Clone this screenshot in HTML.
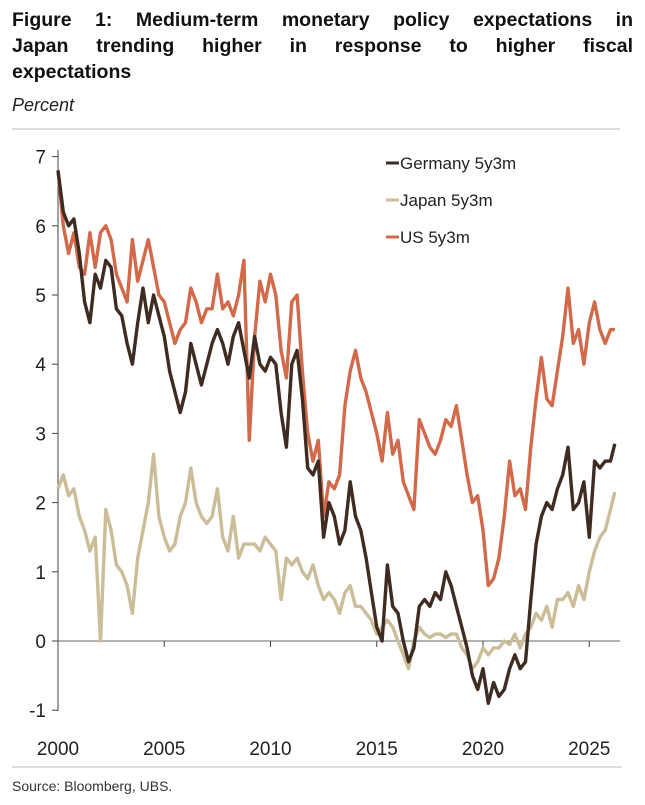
<!DOCTYPE html>
<html><head><meta charset="utf-8">
<style>
body{margin:0;background:#fff;width:645px;height:805px;overflow:hidden;font-family:"Liberation Sans",sans-serif;}
.t{position:absolute;left:12px;width:621px;font-weight:bold;font-size:19.5px;color:#111;line-height:26px;}
.j{text-align:justify;text-align-last:justify;}
</style></head><body>
<div class="t j" style="top:7px">Figure 1: Medium-term monetary policy expectations in</div>
<div class="t j" style="top:33px">Japan trending higher in response to higher fiscal</div>
<div class="t" style="top:59px">expectations</div>
<div style="position:absolute;left:12px;top:95px;font-style:italic;font-size:18px;color:#222">Percent</div>
<div style="position:absolute;left:12px;top:128px;width:608px;height:2px;background:#ddd"></div>
<svg id="chart" width="645" height="805" style="position:absolute;left:0;top:0"></svg>
<div style="position:absolute;left:12px;top:766px;width:610px;height:2px;background:#ddd"></div>
<div style="position:absolute;left:12px;top:778px;font-size:14px;color:#333">Source: Bloomberg, UBS.</div>
<script>
const yTicks=[7,6,5,4,3,2,1,0,-1];
const xTicks=[2000,2005,2010,2015,2020,2025];
const startYear=2000, step=0.25;
const us=[6.8,6.0,5.6,5.9,5.4,5.3,5.9,5.4,5.9,6.0,5.8,5.3,5.1,4.9,5.8,5.2,5.5,5.8,5.4,5.0,4.9,4.6,4.3,4.5,4.6,5.1,4.9,4.6,4.8,4.8,5.3,4.8,4.9,4.7,5.0,5.5,2.9,4.4,5.2,4.9,5.3,5.0,4.2,3.8,4.9,5.0,3.9,3.0,2.6,2.9,1.8,2.3,2.2,2.4,3.4,3.9,4.2,3.8,3.6,3.3,3.0,2.6,3.3,2.7,2.9,2.3,2.1,1.9,3.2,3.0,2.8,2.7,2.9,3.2,3.1,3.4,2.9,2.4,2.0,2.1,1.6,0.8,0.9,1.2,1.8,2.6,2.1,2.2,1.9,2.8,3.5,4.1,3.5,3.4,3.9,4.4,5.1,4.3,4.5,4.0,4.6,4.9,4.5,4.3,4.5];
const germany=[6.8,6.2,6.0,6.1,5.6,4.9,4.6,5.3,5.1,5.5,5.4,4.8,4.7,4.3,4.0,4.6,5.1,4.6,5.0,4.7,4.4,3.9,3.6,3.3,3.6,4.3,4.0,3.7,4.0,4.3,4.5,4.3,4.0,4.4,4.6,4.2,3.8,4.4,4.0,3.9,4.1,4.0,3.3,2.8,4.0,4.2,3.5,2.5,2.4,2.6,1.5,2.0,1.8,1.4,1.6,2.3,1.8,1.6,1.2,0.7,0.2,0.0,1.1,0.5,0.4,0.0,-0.3,-0.1,0.5,0.6,0.5,0.7,0.6,1.0,0.8,0.5,0.2,-0.1,-0.5,-0.7,-0.4,-0.9,-0.6,-0.8,-0.7,-0.4,-0.2,-0.4,-0.3,0.6,1.4,1.8,2.0,1.9,2.2,2.4,2.8,1.9,2.0,2.3,1.5,2.6,2.5,2.6,2.6];
const japan=[2.2,2.4,2.1,2.2,1.8,1.6,1.3,1.5,0.0,1.9,1.6,1.1,1.0,0.8,0.4,1.2,1.6,2.0,2.7,1.8,1.5,1.3,1.4,1.8,2.0,2.5,2.0,1.8,1.7,1.8,2.2,1.5,1.3,1.8,1.2,1.4,1.4,1.4,1.3,1.5,1.4,1.3,0.6,1.2,1.1,1.2,1.0,0.9,1.1,0.8,0.6,0.7,0.6,0.4,0.7,0.8,0.5,0.5,0.4,0.3,0.1,0.2,0.3,0.2,0.0,-0.2,-0.4,0.0,0.2,0.1,0.05,0.1,0.1,0.05,0.1,0.1,-0.1,-0.2,-0.4,-0.3,-0.1,-0.2,-0.1,-0.1,0.0,-0.05,0.1,-0.1,0.1,0.2,0.4,0.3,0.5,0.2,0.6,0.6,0.7,0.5,0.8,0.6,1.0,1.3,1.5,1.6,1.9];
const lastUS=4.5,lastDE=2.85,lastJP=2.15;
const svg=document.getElementById('chart');
const NS='http://www.w3.org/2000/svg';
const X=yr=>58+(yr-2000)*21.25;
const Y=v=>641-v*69.2;
function mk(tag,a){const e=document.createElementNS(NS,tag);for(const k in a)e.setAttribute(k,a[k]);svg.appendChild(e);return e;}
let ax=mk('line',{x1:58,y1:150,x2:58,y2:711,stroke:'#444','stroke-width':1});


let zl=mk('line',{x1:58,y1:Y(0),x2:620,y2:Y(0),stroke:'#666','stroke-width':1});


yTicks.forEach(v=>{
 let tk=mk('line',{x1:52,y1:Y(v),x2:58,y2:Y(v),stroke:'#444'});
 
 
 let t=mk('text',{x:46,y:Y(v)+7,'text-anchor':'end','font-size':19,fill:'#222','font-family':'Liberation Sans, sans-serif'});
 t.textContent=v;
 
 
});
xTicks.forEach(yr=>{
 if(yr>2000){let tk=mk('line',{x1:X(yr),y1:Y(0),x2:X(yr),y2:Y(0)+6,stroke:'#444'});
 
 }
 let t=mk('text',{x:X(yr),y:755,'text-anchor':'middle','font-size':19,fill:'#222','font-family':'Liberation Sans, sans-serif'});
 t.textContent=yr;
 
 
});
function series(vals,last,color,name){
 let pts=vals.map((v,i)=>X(startYear+i*step).toFixed(1)+','+Y(v).toFixed(1));
 pts.push(X(2026.2).toFixed(1)+','+Y(last).toFixed(1));
 let p=mk('polyline',{points:pts.join(' '),fill:'none',stroke:color,'stroke-width':3.4,'stroke-linejoin':'round'});
 
 
}
series(japan,lastJP,'#cbbd98','japan-5y3m-line');
series(us,lastUS,'#d2694b','us-5y3m-line');
series(germany,lastDE,'#3e2c22','germany-5y3m-line');
const legend=[['Germany 5y3m','#3e2c22',163],['Japan 5y3m','#cbbd98',200],['US 5y3m','#d2694b',237]];
legend.forEach(l=>{
 let s=mk('line',{x1:386,y1:l[2],x2:399,y2:l[2],stroke:l[1],'stroke-width':3});
 
 
 let t=mk('text',{x:400,y:l[2]+6,'font-size':17,fill:'#222','font-family':'Liberation Sans, sans-serif'});
 t.textContent=l[0];
 
 
});
</script>
</body></html>
